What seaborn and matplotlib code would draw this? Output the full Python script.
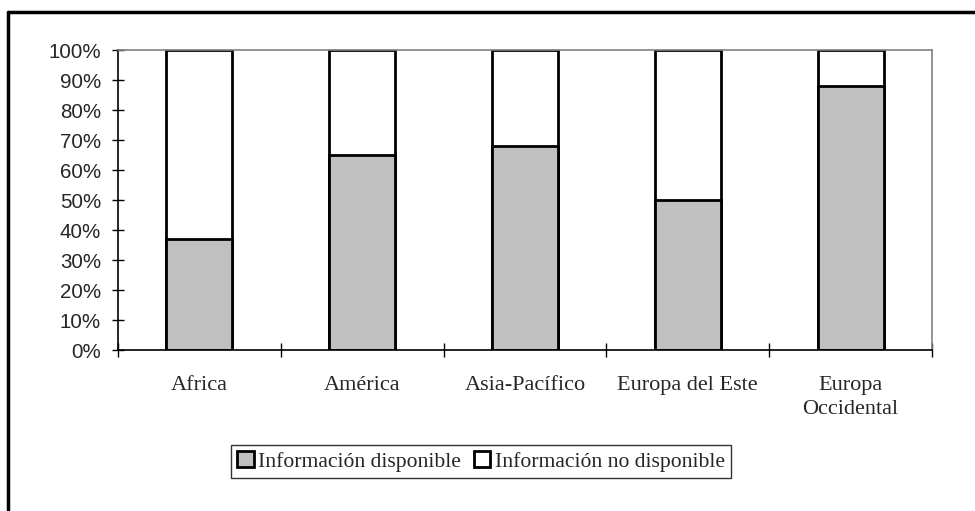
import matplotlib
matplotlib.use("Agg")
import matplotlib.pyplot as plt
import seaborn as sns
import pandas as pd
from matplotlib.patches import Patch
from matplotlib.lines import Line2D

categories = ["Africa", "América", "Asia-Pacífico", "Europa del Este", "Europa\nOccidental"]
disponible = [37, 65, 68, 50, 88]
total = [100, 100, 100, 100, 100]
yticks = [0, 10, 20, 30, 40, 50, 60, 70, 80, 90, 100]
ylabels = [f"{v}%" for v in yticks]
legend_labels = ["Información disponible", "Información no disponible"]

sns.set_style("white")
plt.rcParams['font.family'] = ['Liberation Serif', 'DejaVu Serif']

df = pd.DataFrame({"cat": categories, "disp": disponible, "total": total})

fig = plt.figure(figsize=(9.75, 5.11), dpi=100)
ax = fig.add_axes([118/975, 1-350/511, (932-118)/975, 300/511])

bw = 0.405
sns.barplot(data=df, x="cat", y="total", color="white", edgecolor="black",
            linewidth=2, width=bw, ax=ax, saturation=1)
sns.barplot(data=df, x="cat", y="disp", color="#c0c0c0", edgecolor="black",
            linewidth=2, width=bw, ax=ax, saturation=1)

ax.set_xlim(-0.5, 4.5)
ax.set_ylim(0, 100)
ax.set_xlabel("")
ax.set_ylabel("")

ax.set_yticks(yticks)
ax.set_yticklabels(ylabels, family=['Liberation Sans', 'DejaVu Sans'], fontsize=14.8)
ax.tick_params(axis='y', direction='inout', length=8.6, width=1, color='black', pad=8, left=True)

ax.set_xticks(range(len(categories)))
ax.set_xticklabels(categories, fontsize=16, linespacing=1.4)
ax.tick_params(axis='x', which='major', length=0, pad=18.5)
ax.set_xticks([i - 0.5 for i in range(len(categories) + 1)], minor=True)
ax.tick_params(axis='x', which='minor', direction='inout', length=10, width=1, color='black', bottom=True)

for s in ['left', 'bottom']:
    ax.spines[s].set_color('black')
    ax.spines[s].set_linewidth(1.2)
for s in ['top', 'right']:
    ax.spines[s].set_visible(True)
    ax.spines[s].set_color('#808080')
    ax.spines[s].set_linewidth(1.2)

handles = [Patch(facecolor="#c0c0c0", edgecolor="black", linewidth=2),
           Patch(facecolor="white", edgecolor="black", linewidth=2)]
leg = fig.legend(handles, legend_labels, loc='center', bbox_to_anchor=(481/975, 1-461.5/511),
                 ncol=2, fontsize=15.6, frameon=True, fancybox=False, shadow=False,
                 handlelength=0.75, handleheight=0.75, handletextpad=0.2, columnspacing=0.6,
                 borderpad=0.3, borderaxespad=0)
leg.get_frame().set_edgecolor('black')
leg.get_frame().set_linewidth(1)

fig.add_artist(Line2D([8/975, 1.0], [1-12/511, 1-12/511], color='black', linewidth=2.5, transform=fig.transFigure))
fig.add_artist(Line2D([8/975, 8/975], [0, 1-12/511], color='black', linewidth=2.5, transform=fig.transFigure))

fig.savefig("out.png", dpi=100)
